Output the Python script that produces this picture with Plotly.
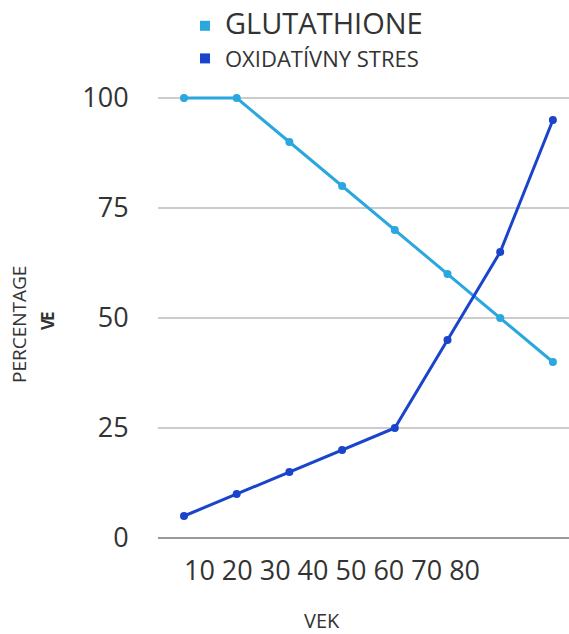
import plotly.graph_objects as go

age_labels = ["10", "20", "30", "40", "50", "60", "70", "80"]
positions = [0, 1, 2, 3, 4, 5, 6, 7]
glutathione = [100, 100, 90, 80, 70, 60, 50, 40]
oxidative = [5, 10, 15, 20, 25, 45, 65, 95]
y_ticks = [0, 25, 50, 75, 100]

c_light = "#2aa7de"
c_dark = "#1a44cc"
FONT = "Open Sans, Noto Sans, sans-serif"
TXT = "#333333"

W, H = 569, 634
L, R, T, B = 158, 0, 76, 96
pw = W - L - R
ph = H - T - B

fig = go.Figure()
fig.add_trace(go.Scatter(x=positions, y=glutathione, mode="lines+markers",
                         line=dict(color=c_light, width=3),
                         marker=dict(color=c_light, size=8), showlegend=False, cliponaxis=False))
fig.add_trace(go.Scatter(x=positions, y=oxidative, mode="lines+markers",
                         line=dict(color=c_dark, width=3),
                         marker=dict(color=c_dark, size=8), showlegend=False, cliponaxis=False))
# legend entries
fig.add_trace(go.Scatter(x=[None], y=[None], mode="markers", legendgroup="g1",
                         marker=dict(symbol="square", color=c_light, size=10),
                         name='<span style="font-size:29px">GLUTATHIONE</span>'))
fig.add_trace(go.Scatter(x=[None], y=[None], mode="markers", legendgroup="g2",
                         marker=dict(symbol="square", color=c_dark, size=10),
                         name='<span style="font-size:22px">OXIDATÍVNY STRES</span>'))

sp = 52.7
x0 = -(26 / sp)
x1 = x0 + pw / sp
center_px = 332
tick_val = x0 + (center_px - L) / sp

fig.update_layout(
    width=W, height=H,
    margin=dict(l=L, r=R, t=T, b=B, pad=0),
    paper_bgcolor="white", plot_bgcolor="white",
    font=dict(family=FONT, color=TXT),
    legend=dict(x=(185 - L) / pw, y=1 + (T - 5) / ph, xanchor="left", yanchor="top",
                font=dict(size=22, color=TXT), itemwidth=30, tracegroupgap=1,
                bgcolor="rgba(0,0,0,0)"),
    xaxis=dict(range=[x0, x1], showgrid=False, zeroline=False, showline=False,
               tickvals=[tick_val], ticktext=[" ".join(age_labels)],
               tickfont=dict(size=27, color=TXT), ticks="", ticklabelstandoff=14),
    yaxis=dict(range=[0, 105], tickvals=y_ticks, showgrid=True, gridcolor="#cccccc", gridwidth=1.5,
               zeroline=True, zerolinecolor="#999999", zerolinewidth=2, showline=False,
               tickfont=dict(size=27, color=TXT), ticks="outside", ticklen=23,
               tickcolor="rgba(0,0,0,0)"),
    showlegend=True,
)
fig.add_annotation(xref="paper", yref="paper", x=(322 - L) / pw, y=(538 - 620) / ph,
                   text="VEK", showarrow=False,
                   font=dict(size=20, color=TXT), xanchor="center", yanchor="middle")
fig.add_annotation(xref="paper", yref="paper", x=(19 - L) / pw, y=(538 - 325) / ph,
                   text="PERCENTAGE", textangle=-90, showarrow=False,
                   font=dict(size=19, color=TXT), xanchor="center", yanchor="middle")
fig.add_annotation(xref="paper", yref="paper", x=(47 - L) / pw, y=(538 - 324) / ph,
                   text="<b>V</b>", textangle=-90, showarrow=False,
                   font=dict(size=17, color=TXT), xanchor="center", yanchor="middle")
fig.add_annotation(xref="paper", yref="paper", x=(47 - L) / pw, y=(538 - 316) / ph,
                   text="<b>E</b>", textangle=-90, showarrow=False,
                   font=dict(size=17, color=TXT), xanchor="center", yanchor="middle")
fig.write_html("out.html", post_script="document.body.style.margin='0';",
               config={"displayModeBar": False})
